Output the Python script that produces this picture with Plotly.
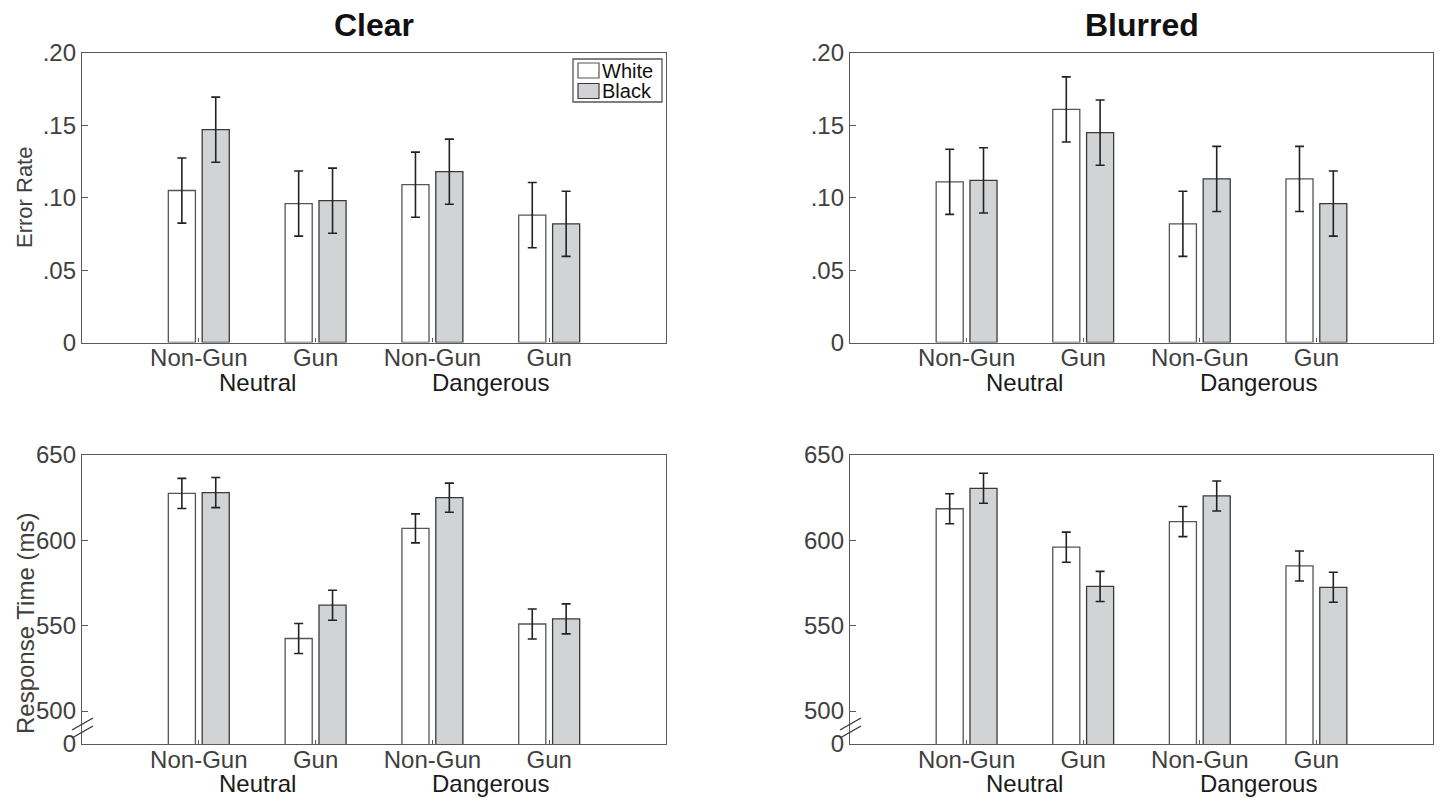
import plotly.graph_objects as go

# ---------------- data ----------------
groups = [1, 2, 3, 4]
group_labels = ["Non-Gun", "Gun", "Non-Gun", "Gun"]
context_labels = ["Neutral", "Dangerous"]
context_pos = [1.5, 3.5]
race = ["White", "Black"]

clear_err_white = [0.105, 0.096, 0.109, 0.088]
clear_err_black = [0.147, 0.098, 0.118, 0.082]
clear_err_se_white = [0.0225, 0.0225, 0.0225, 0.0225]
clear_err_se_black = [0.0225, 0.0225, 0.0225, 0.0225]

blur_err_white = [0.111, 0.161, 0.082, 0.113]
blur_err_black = [0.112, 0.145, 0.113, 0.096]
blur_err_se_white = [0.0225, 0.0225, 0.0225, 0.0225]
blur_err_se_black = [0.0225, 0.0225, 0.0225, 0.0225]

clear_rt_white = [627.5, 542.5, 607, 551]
clear_rt_black = [628, 562, 625, 554]
clear_rt_se_white = [8.8, 8.8, 8.5, 8.8]
clear_rt_se_black = [8.8, 8.8, 8.5, 8.8]

blur_rt_white = [618.5, 596, 611, 585]
blur_rt_black = [630.5, 573, 626, 572.5]
blur_rt_se_white = [8.8, 8.8, 8.8, 8.8]
blur_rt_se_black = [8.8, 8.8, 8.8, 8.8]

err_ticks = [0, 0.05, 0.10, 0.15, 0.20]
err_ticktext = ["0", ".05", ".10", ".15", ".20"]
rt_ticks = [480.7, 500, 550, 600, 650]
rt_ticktext = ["0", "500", "550", "600", "650"]

# ---------------- style ----------------
W, H = 1443, 798
FONT = "Liberation Sans, Arial, Helvetica, sans-serif"
AX = "#5a5a5a"
TXT = "#404040"
GRAY_FILL = "#d1d3d4"
race_fill = {"White": "white", "Black": GRAY_FILL}
race_line = {"White": "#555555", "Black": "#3a3a3a"}

def px_x(a, b):
    return [a / W, b / W]

def px_y(top, bottom):
    return [(H - bottom) / H, (H - top) / H]

def py(v):
    return (H - v) / H

dom_x = [px_x(82, 666), px_x(850, 1433)]
dom_y_top = px_y(53, 342.5)
dom_y_bot = px_y(455, 744)

fig = go.Figure()

panels = [
    (clear_err_white, clear_err_black, clear_err_se_white, clear_err_se_black, 1, dom_x[0], dom_y_top, "err"),
    (blur_err_white, blur_err_black, blur_err_se_white, blur_err_se_black, 2, dom_x[1], dom_y_top, "err"),
    (clear_rt_white, clear_rt_black, clear_rt_se_white, clear_rt_se_black, 3, dom_x[0], dom_y_bot, "rt"),
    (blur_rt_white, blur_rt_black, blur_rt_se_white, blur_rt_se_black, 4, dom_x[1], dom_y_bot, "rt"),
]

for wv, bv, sw, sb, i, dx, dy, kind in panels:
    xa = "x" if i == 1 else f"x{i}"
    ya = "y" if i == 1 else f"y{i}"
    for name, vals, se in [("White", wv, sw), ("Black", bv, sb)]:
        fig.add_trace(go.Bar(
            x=groups, y=vals, name=name,
            marker=dict(color=race_fill[name], line=dict(color=race_line[name], width=1.3)),
            error_y=dict(type="data", array=se, visible=True,
                         color="#222222", thickness=1.6, width=4.5),
            xaxis=xa, yaxis=ya,
            showlegend=False, legendgroup=name,
        ))
    xkey = "xaxis" if i == 1 else f"xaxis{i}"
    ykey = "yaxis" if i == 1 else f"yaxis{i}"
    fig.layout[xkey] = dict(
        domain=dx, anchor=ya, range=[0, 5],
        tickmode="array", tickvals=groups, ticktext=group_labels,
        ticks="inside", ticklen=4, tickcolor=AX, tickwidth=1,
        showline=True, linecolor=AX, linewidth=1.3, mirror=True,
        showgrid=False, zeroline=False, automargin=False,
        ticklabelstandoff=-6,
        tickfont=dict(family=FONT, size=24, color=TXT),
        fixedrange=True,
    )
    if kind == "err":
        yd = dict(range=[0, 0.20], tickvals=err_ticks, ticktext=err_ticktext)
    else:
        yd = dict(range=[480.7, 650], tickvals=rt_ticks, ticktext=rt_ticktext)
    fig.layout[ykey] = dict(
        domain=dy, anchor=xa, tickmode="array",
        ticks="inside", ticklen=6, tickcolor=AX, tickwidth=1,
        showline=True, linecolor=AX, linewidth=1.3, mirror=True,
        showgrid=False, zeroline=False, automargin=False,
        tickfont=dict(family=FONT, size=24, color=TXT),
        fixedrange=True, **yd,
    )
    for lab, pos in zip(context_labels, context_pos):
        fig.add_annotation(
            x=pos, y=0, xref=xa, yref=f"{ya} domain",
            text=lab, showarrow=False, xanchor="center", yanchor="top", yshift=-24,
            font=dict(family=FONT, size=24, color="#1a1a1a"),
        )
    if kind == "rt":
        x0 = dx[0] - 10 / W
        x1 = dx[0] + 11 / W
        for yb0, yb1 in [(730, 718), (738, 726)]:
            fig.add_shape(type="line", xref="paper", yref="paper",
                          x0=x0, x1=x1, y0=py(yb0), y1=py(yb1),
                          line=dict(color="#333333", width=1.3))

# panel titles
for txt, dx in [("Clear", dom_x[0]), ("Blurred", dom_x[1])]:
    fig.add_annotation(x=(dx[0] + dx[1]) / 2, y=py(25), xref="paper", yref="paper",
                       text=f"<b>{txt}</b>", showarrow=False,
                       xanchor="center", yanchor="middle",
                       font=dict(family=FONT, size=32, color="#111111"))

# y-axis titles
fig.add_annotation(x=25 / W, y=py(197), xref="paper", yref="paper",
                   text="Error Rate", textangle=-90, showarrow=False,
                   xanchor="center", yanchor="middle",
                   font=dict(family=FONT, size=22, color=TXT))
fig.add_annotation(x=25 / W, y=py(624), xref="paper", yref="paper",
                   text="Response Time (ms)", textangle=-90, showarrow=False,
                   xanchor="center", yanchor="middle",
                   font=dict(family=FONT, size=24, color=TXT))

# legend box (top-left panel)
fig.add_shape(type="rect", xref="paper", yref="paper",
              x0=573 / W, x1=662 / W, y0=py(102), y1=py(59),
              line=dict(color="#555555", width=1.3), fillcolor="white", layer="above")
for k, name in enumerate(race):
    top = 63 + k * 20.5
    fig.add_shape(type="rect", xref="paper", yref="paper",
                  x0=578 / W, x1=599 / W, y0=py(top + 15), y1=py(top),
                  line=dict(color=race_line[name], width=1.2),
                  fillcolor=race_fill[name], layer="above")
    fig.add_annotation(x=600 / W, y=py(top + 7.5), xref="paper", yref="paper",
                       text=name, showarrow=False, xanchor="left", yanchor="middle",
                       font=dict(family=FONT, size=20, color="#111111"))

fig.update_layout(
    width=W, height=H,
    margin=dict(l=0, r=0, t=0, b=0, autoexpand=False),
    paper_bgcolor="white", plot_bgcolor="white",
    barmode="group", bargap=0.42, bargroupgap=0.2,
    showlegend=False,
    font=dict(family=FONT),
)

fig.write_html("out.html")
